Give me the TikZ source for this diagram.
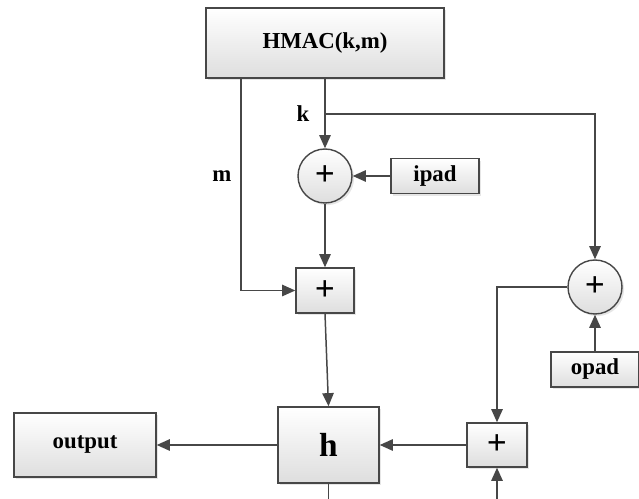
\documentclass[tikz,border=0pt]{standalone}
\usepackage{fontspec}
\setmainfont{Liberation Serif}
\usetikzlibrary{arrows.meta,shadows}

\definecolor{linegray}{HTML}{474747}

\tikzset{
	blk/.style={draw=linegray, line width=0.8pt, top color=white, bottom color=black!13,
		drop shadow={opacity=0.2, shadow xshift=1.2pt, shadow yshift=-1.2pt},
		inner sep=0pt, font=\bfseries\fontsize{13}{15}\selectfont},
	xorc/.style={circle, blk, minimum size=1.08cm, font=\bfseries\fontsize{20}{22}\selectfont},
	plusbox/.style={blk, font=\bfseries\fontsize{20}{22}\selectfont},
	lbl/.style={font=\bfseries\fontsize{13}{15}\selectfont},
	arr/.style={draw=linegray, line width=0.85pt, -{Triangle[length=7.5pt,width=6.5pt]}},
	ln/.style={draw=linegray, line width=0.85pt}
}

\begin{document}
\begin{tikzpicture}[x=0.02cm, y=-0.02cm]
			\useasboundingbox (0,0) rectangle (639,499);
			\node[blk, minimum width=4.76cm, minimum height=1.4cm] (hmac) at (325,43) {HMAC(k,m)};
			\node[xorc] (c1) at (325,176) {+};
			\node[blk, minimum width=1.76cm, minimum height=0.7cm] (ipad) at (435,176) {ipad};
			\node[plusbox, minimum width=1.16cm, minimum height=0.9cm] (box1) at (325,290.5) {+};
			\node[xorc] (c2) at (595,287) {+};
			\node[blk, minimum width=1.76cm, minimum height=0.7cm] (opad) at (595,369.5) {opad};
			\node[plusbox, minimum width=1.2cm, minimum height=0.88cm] (box2) at (497,445) {+};
			\node[blk, minimum width=2.02cm, minimum height=1.52cm, font=\bfseries\fontsize{19}{21}\selectfont] (h) at (328.5,445) {h};
			\node[blk, minimum width=2.84cm, minimum height=1.28cm] (output) at (85,445) {output};
			\node[lbl] (klbl) at (303,114) {k};
			\node[lbl] (mlbl) at (222,176) {m};
			\coordinate (mtop) at (241,78);
			\coordinate (kbr) at (325,114);
			\coordinate (hout) at (328.5,499);
			\coordinate (fb) at (497,499);
			\draw[arr] (mtop) |- (box1.west);
			\draw[arr] (hmac.south) -- (c1);
			\draw[arr] (kbr) -| (c2.north);
			\draw[arr] (ipad) -- (c1);
			\draw[arr] (c1) -- (box1);
			\draw[arr] (box1.south) -- (h.north);
			\draw[arr] (opad) -- (c2);
			\draw[arr] (c2.west) -| (box2.north);
			\draw[arr] (box2) -- (h);
			\draw[arr] (h) -- (output);
			\draw[ln] (h.south) -- (hout);
			\draw[arr] (fb) -- (box2.south);
		\end{tikzpicture}
\end{document}
